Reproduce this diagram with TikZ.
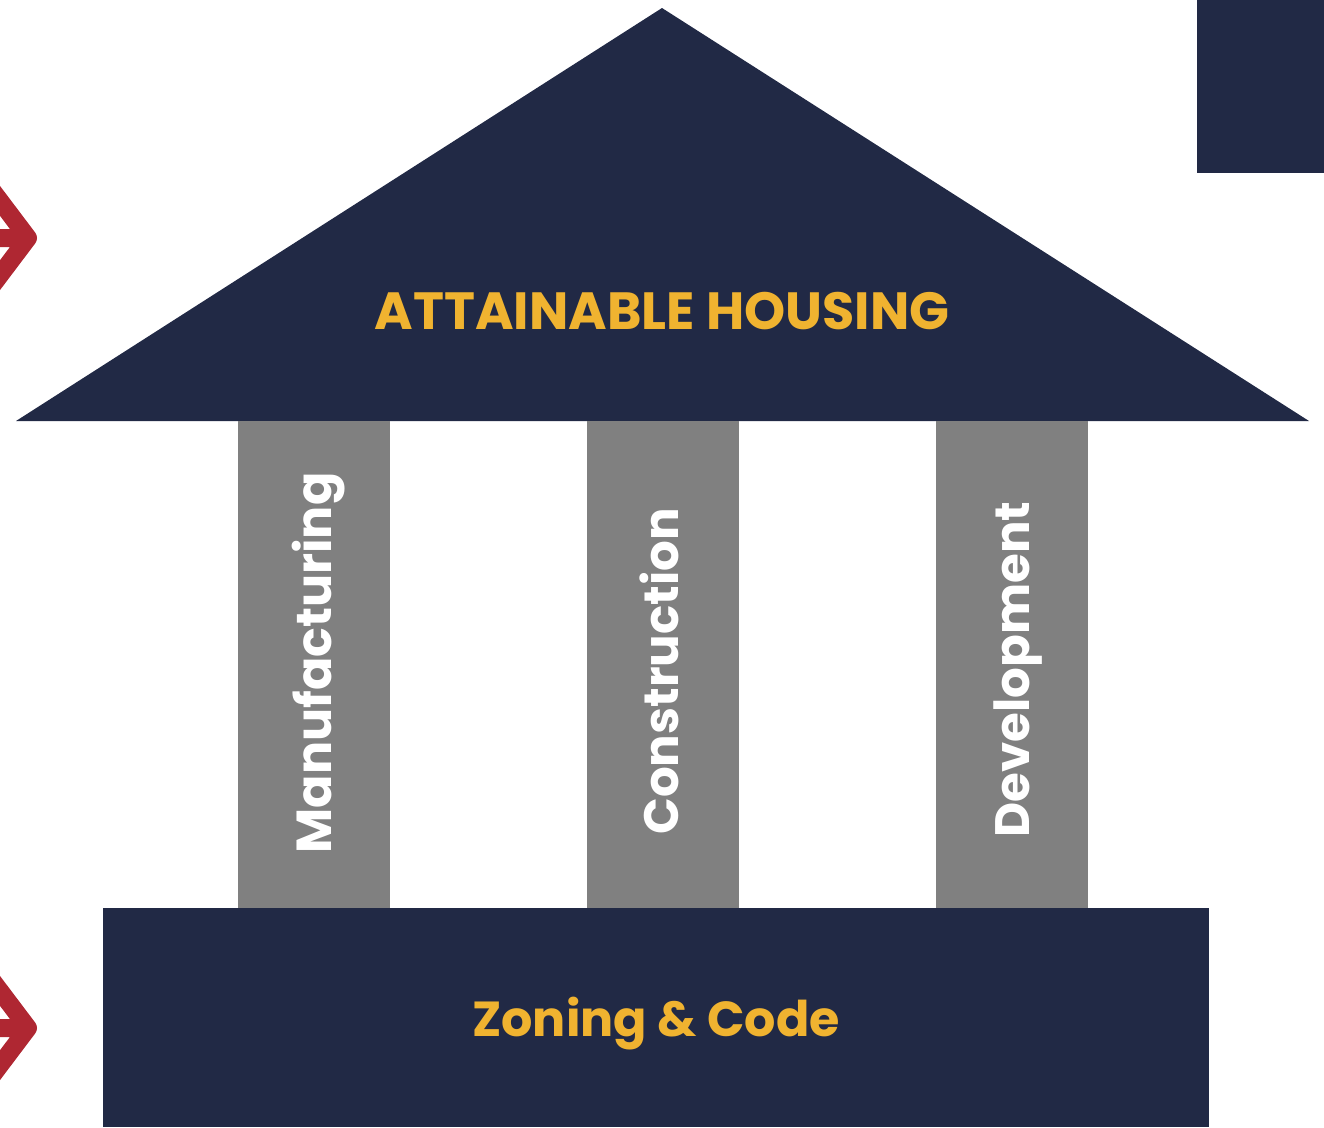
\documentclass[tikz,border=0pt]{standalone}
\usepackage{fontspec}
\setmainfont{Poppins}
\usetikzlibrary{positioning}
\definecolor{navy}{HTML}{212945}
\definecolor{stone}{HTML}{808080}
\definecolor{gold}{HTML}{F0B330}
\definecolor{brick}{HTML}{AF2732}

\tikzset{
  pillar/.style={fill=stone, inner sep=0pt, minimum width=3.04cm, minimum height=9.74cm},
  pillar label/.style={rotate=90, text=white, font=\bfseries\fontsize{27.5}{30}\selectfont},
  plinth/.style={fill=navy, inner sep=0pt, minimum width=22.12cm, minimum height=4.38cm},
  title/.style={text=gold, font=\bfseries\fontsize{29.8}{32}\selectfont},
}

\begin{document}
\begin{tikzpicture}[x=0.02cm,y=-0.02cm]
\useasboundingbox (0,0) rectangle (1324,1127);

% roof
\fill[navy] (16,421) -- (662,8) -- (1309,421) -- cycle;
\node[title] (roof) at (662,311) {ATTAINABLE HOUSING};

% corner block
\node[fill=navy, inner sep=0pt, minimum width=2.54cm, minimum height=3.46cm, anchor=north east] (corner) at (1324,0) {};

% pillars
\node[pillar] (p_2) at (663,664.5) {};
\node[pillar] (p_1) [left = 3.92cm of p_2] {};
\node[pillar] (p_3) [right = 3.92cm of p_2] {};

% labels turned upright, so xshift runs up and yshift runs left
\node[pillar label, font=\bfseries\fontsize{28}{30}\selectfont] (t_1) [xshift=0.03cm, yshift=-0.08cm] at (p_1) {Manufacturing};
\node[pillar label] (t_2) [xshift=-0.14cm, yshift=0.08cm] at (p_2) {Construction};
\node[pillar label] (t_3) [xshift=-0.1cm, yshift=-0.12cm] at (p_3) {Development};

% base
\node[plinth] (base) at (656,1017.5) {};
\node[title, font=\bfseries\fontsize{28}{30}\selectfont] (zoning) at (656,1024) {Zoning \& Code};

% arrows at the left edge
\foreach \y in {238,1028}
  \draw[brick, line width=0.36cm, line join=round]
    (-15,\y-57) -- (28,\y) -- (-15,\y+57)
    (-15,\y) -- (18,\y);

\end{tikzpicture}
\end{document}
